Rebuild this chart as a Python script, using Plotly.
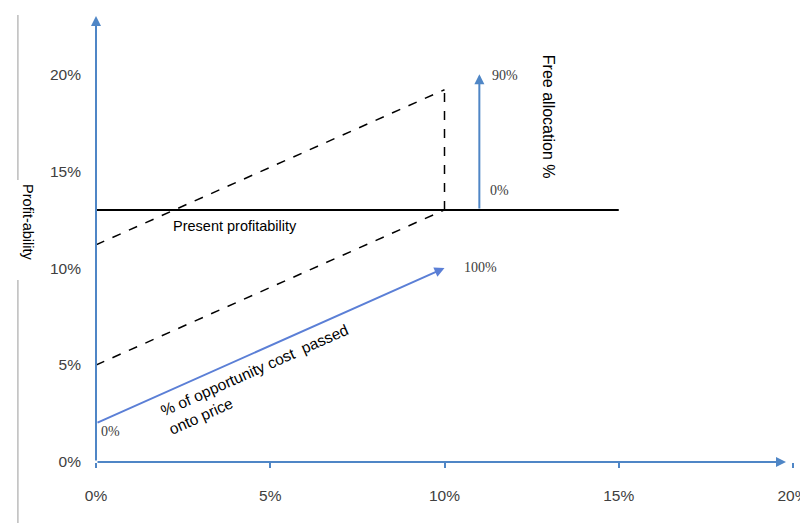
import plotly.graph_objects as go

# ---- data ----
x_tick_vals = [0, 5, 10, 15, 20]
x_tick_text = ["0%", "5%", "10%", "15%", "20%"]
y_tick_vals = [0, 5, 10, 15, 20]
y_tick_text = ["0%", "5%", "10%", "15%", "20%"]

present_x = [0, 15]
present_y = [13, 13]

pass_x = [0, 10]          # % of opportunity cost passed onto price
pass_y = [2, 10]

dash_low_x = [0, 10]
dash_low_y = [5, 13]
dash_up_x = [0, 10]
dash_up_y = [11.2, 19.2]
dash_vert_x = [10, 10]
dash_vert_y = [13, 19.2]

free_x = [11, 11]         # free allocation arrow
free_y = [13, 20]

x_axis_end = 19.8
y_axis_end = 23

BLUE = "#4F86C6"
BLUE2 = "#5B7FD6"
GRAY = "#404040"

fig = go.Figure()

fig.add_trace(go.Scatter(x=present_x, y=present_y, mode="lines",
                         line=dict(color="black", width=2), hoverinfo="skip"))
fig.add_trace(go.Scatter(x=dash_low_x, y=dash_low_y, mode="lines",
                         line=dict(color="black", width=1.5, dash="dash"), hoverinfo="skip"))
fig.add_trace(go.Scatter(x=dash_up_x, y=dash_up_y, mode="lines",
                         line=dict(color="black", width=1.5, dash="dash"), hoverinfo="skip"))
fig.add_trace(go.Scatter(x=dash_vert_x, y=dash_vert_y, mode="lines",
                         line=dict(color="black", width=1.5, dash="dash"), hoverinfo="skip"))

ann = []
def arrow(x0, y0, x1, y1, color, width=2):
    ann.append(dict(x=x1, y=y1, ax=x0, ay=y0, xref="x", yref="y", axref="x", ayref="y",
                    showarrow=True, arrowhead=2, arrowsize=1, arrowwidth=width,
                    arrowcolor=color, text=""))

# axes
arrow(0, 0, x_axis_end, 0, BLUE, 2)
arrow(0, 0, 0, y_axis_end, BLUE, 2)
# pass-through line
arrow(pass_x[0], pass_y[0], pass_x[1], pass_y[1], BLUE2, 2)
# free allocation
arrow(free_x[0], free_y[0], free_x[1], free_y[1], BLUE, 2)

serif = dict(family="Liberation Serif", size=14, color="#404040")
ann += [
    dict(x=11.3, y=19.95, text="90%", showarrow=False, xanchor="left", font=serif),
    dict(x=11.25, y=14.0, text="0%", showarrow=False, xanchor="left", font=serif),
    dict(x=10.5, y=10.05, text="100%", showarrow=False, xanchor="left", font=serif),
    dict(x=0.1, y=1.55, text="0%", showarrow=False, xanchor="left", font=serif),
    dict(x=4.0, y=12.15, text="Present profitability", showarrow=False,
         font=dict(family="Liberation Sans", size=14.5, color="black")),
    dict(x=4.65, y=4.25, text="% of opportunity cost  passed<br>onto price", showarrow=False,
         textangle=-24, align="left",
         font=dict(family="Liberation Sans", size=15.5, color="black")),
    dict(x=12.97, y=17.8, text="Free allocation %", showarrow=False, textangle=90,
         font=dict(family="Liberation Sans", size=16, color="black")),
    dict(x=-0.112, y=(462 - 222) / 446, xref="paper", yref="paper", text="Profit-ability",
         showarrow=False, textangle=90,
         font=dict(family="Liberation Sans", size=14.5, color="black")),
]

shapes = [
    dict(type="line", xref="paper", yref="paper", x0=-0.112, x1=-0.112,
         y0=(462 - 15) / 446, y1=(462 - 180) / 446, line=dict(color="#9a9a9a", width=1)),
    dict(type="line", xref="paper", yref="paper", x0=-0.112, x1=-0.112,
         y0=(462 - 280) / 446, y1=(462 - 530) / 446, line=dict(color="#9a9a9a", width=1)),
]

# page body has an 8px margin, so the figure is 8px smaller and shifted
fig.update_layout(
    width=800, height=515,
    margin=dict(l=88, r=15, t=8, b=61),
    plot_bgcolor="white", paper_bgcolor="white",
    showlegend=False,
    annotations=ann, shapes=shapes,
    xaxis=dict(range=[0, 20], tickvals=x_tick_vals, ticktext=x_tick_text,
               showgrid=False, zeroline=False, showline=False, automargin=False,
               ticks="outside", ticklen=5, tickcolor=BLUE, tickwidth=1.5,
               ticklabelstandoff=14, ticklabeloverflow="allow",
               tickfont=dict(family="Liberation Sans", size=15.5, color=GRAY)),
    yaxis=dict(range=[0, 23], tickvals=y_tick_vals, ticktext=y_tick_text,
               showgrid=False, zeroline=False, showline=False, ticks="",
               automargin=False, ticklabelstandoff=14, ticklabeloverflow="allow",
               tickfont=dict(family="Liberation Sans", size=15.5, color=GRAY)),
)

fig.write_html("out.html")
